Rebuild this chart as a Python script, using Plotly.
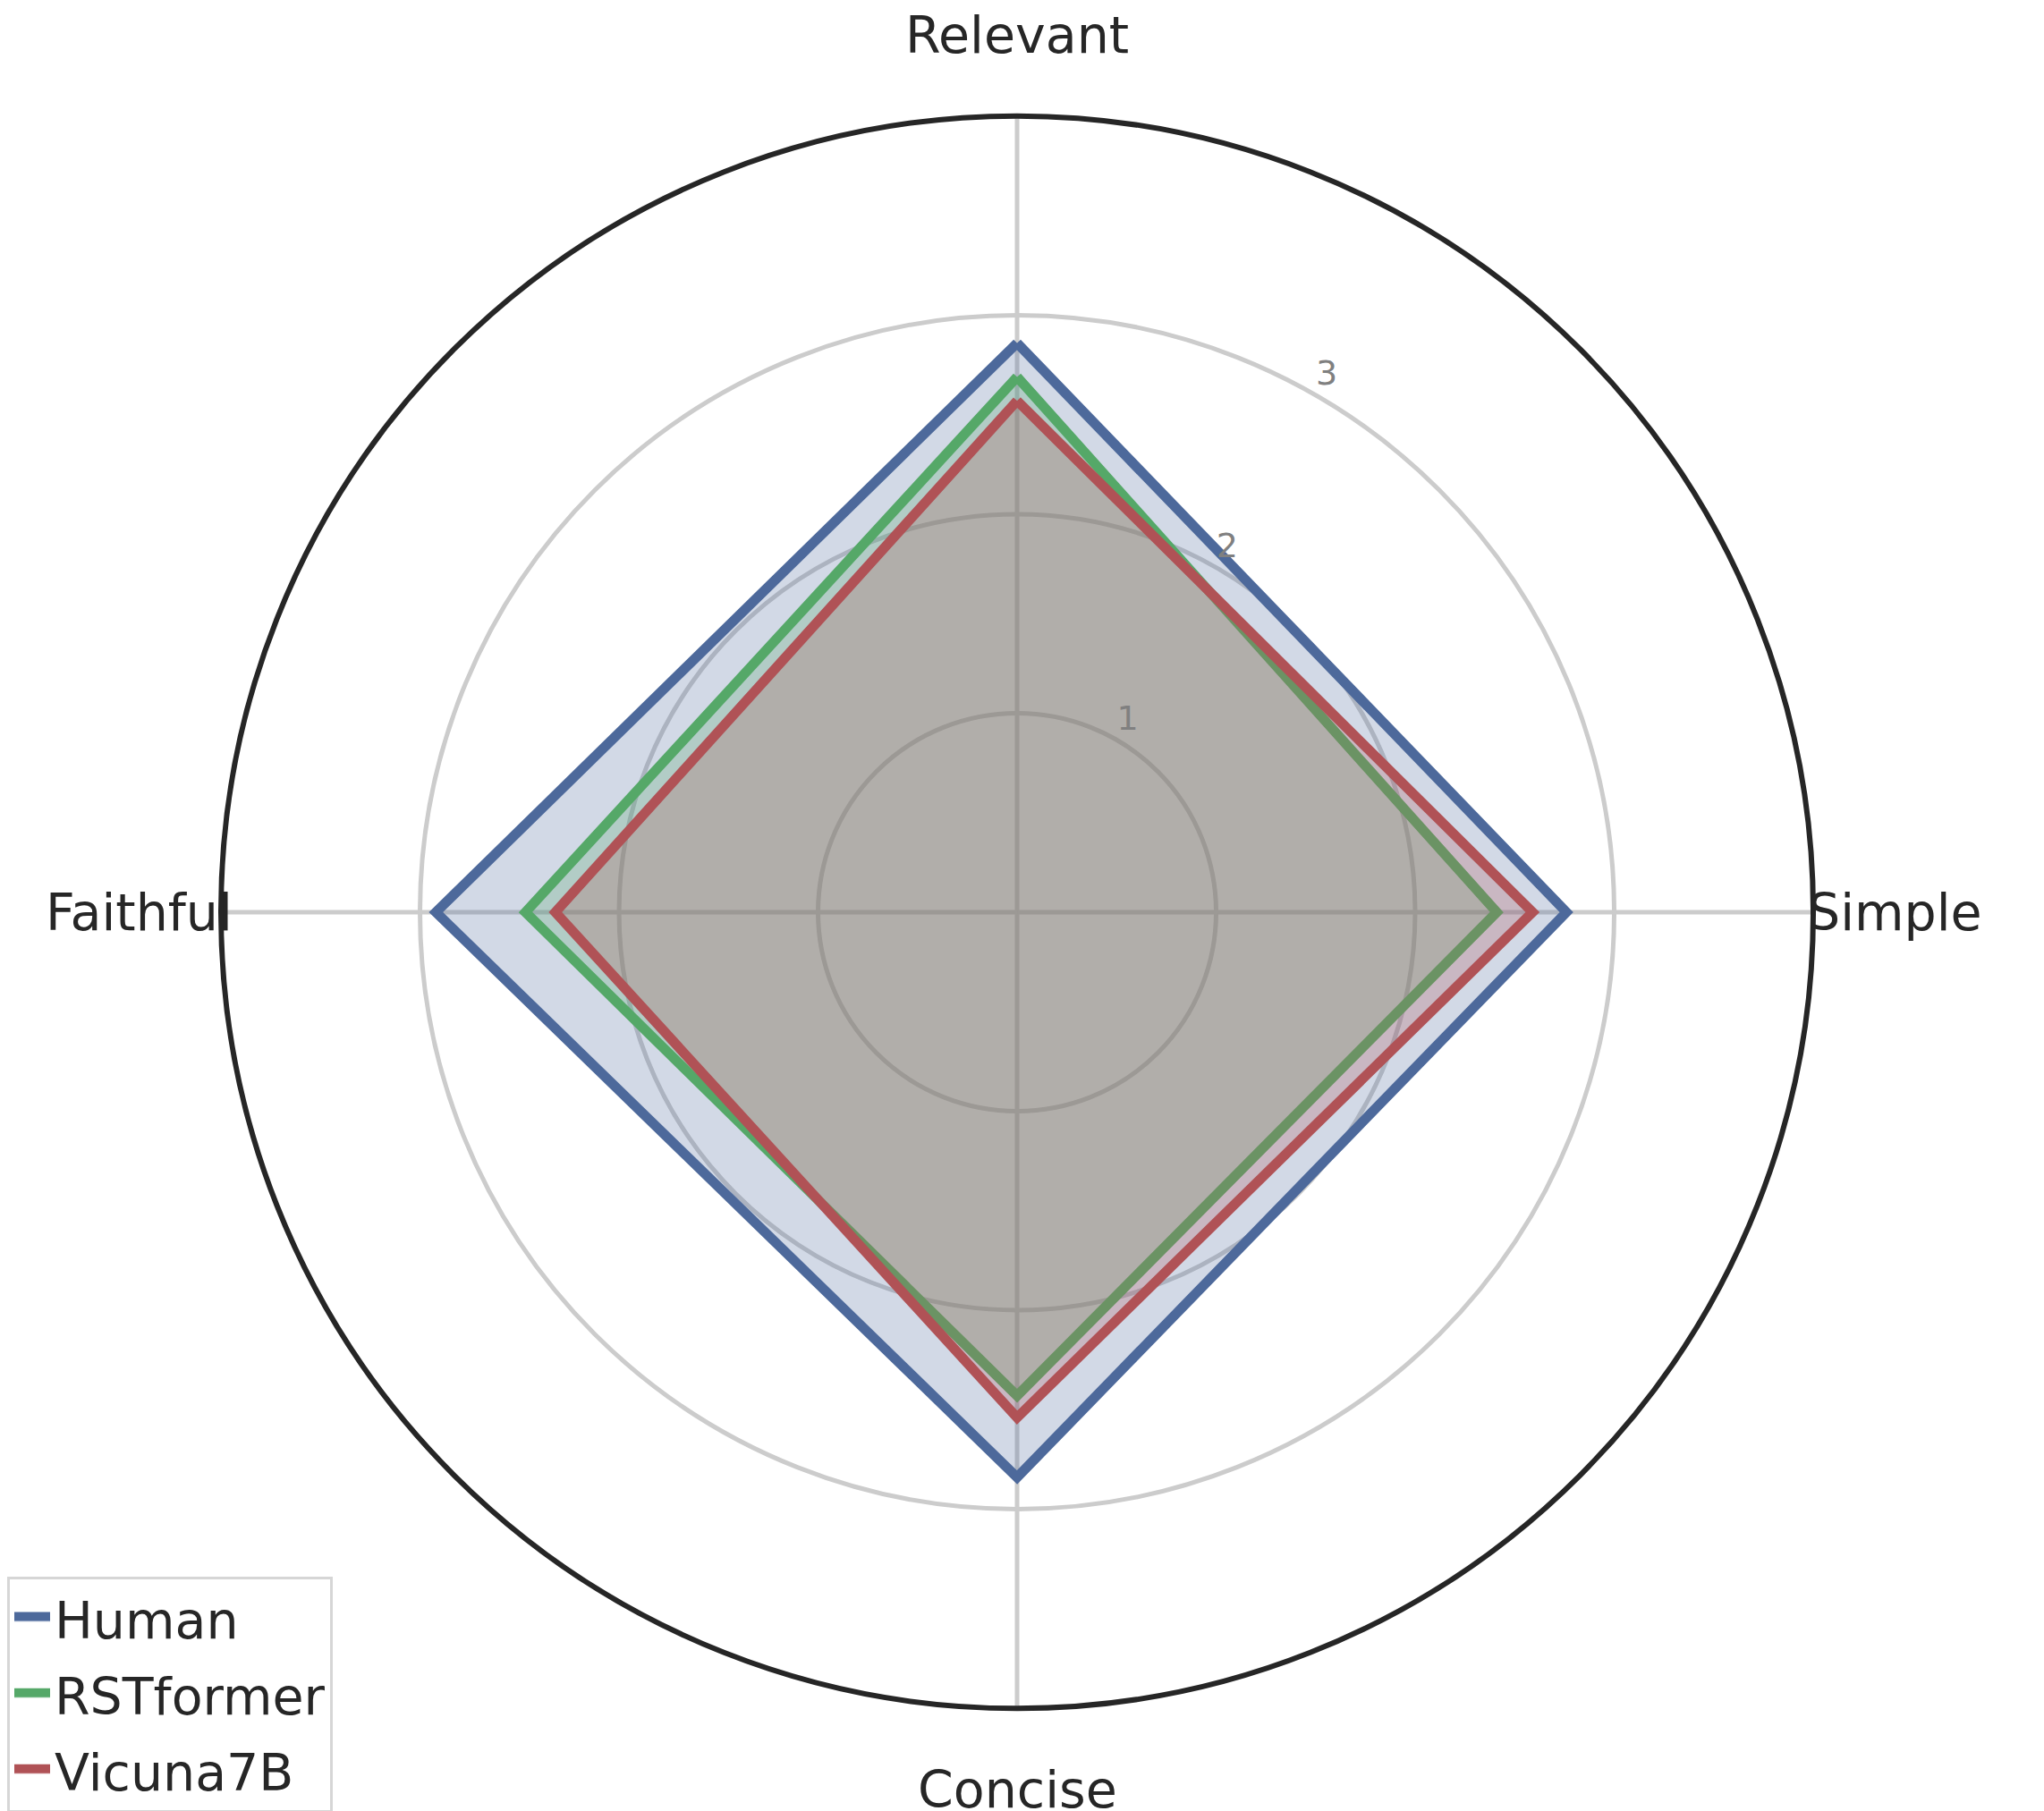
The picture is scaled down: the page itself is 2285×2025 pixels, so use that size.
import math
import plotly.graph_objects as go

categories = ['Relevant', 'Simple', 'Concise', 'Faithful']
angles = [0, 90, 180, 270]  # degrees, clockwise from top
models = ['Human', 'RSTformer', 'Vicuna7B']
human = [2.86, 2.76, 2.84, 2.92]
rstformer = [2.69, 2.41, 2.43, 2.47]
vicuna = [2.57, 2.59, 2.54, 2.32]
radial_ticks = [1, 2, 3]
r_max = 4
label_radius = 4.41

line_colors = ['#4D699B', '#55A868', '#B05256']
fill_colors = ['rgba(77,105,155,0.25)', 'rgba(85,168,104,0.25)', 'rgba(176,82,86,0.25)']

W, H = 2285, 2025
# page body has an 8px margin, domains are shifted to make up for it
dom_x = [0.1046, 0.8836]
dom_y = [0.0607, 0.9398]

fig = go.Figure()

# one closed polygon per model
for name, vals, lc, fc in zip(models, [human, rstformer, vicuna], line_colors, fill_colors):
    fig.add_trace(go.Scatterpolar(
        r=vals + vals[:1],
        theta=angles + angles[:1],
        mode='lines',
        name=name,
        legendgroup=name,
        fill='toself',
        fillcolor=fc,
        line=dict(color=lc, width=11),
    ))

# radial tick labels, matplotlib style: slightly outside each ring at 30 deg
fig.add_trace(go.Scatterpolar(
    r=[t + 0.11 for t in radial_ticks],
    theta=[30] * len(radial_ticks),
    mode='text',
    text=[str(t) for t in radial_ticks],
    textfont=dict(family='DejaVu Sans', size=38, color='#808080'),
    showlegend=False,
    hoverinfo='skip',
))

# category labels a bit outside the outer circle
cx = (dom_x[0] + dom_x[1]) / 2
cy = (dom_y[0] + dom_y[1]) / 2
R_px = (dom_x[1] - dom_x[0]) * W / 2
for cat, a in zip(categories, angles):
    ang = math.radians(90 - a)
    rp = R_px * label_radius / r_max
    fig.add_annotation(
        x=cx + rp * math.cos(ang) / W, y=cy + rp * math.sin(ang) / H,
        xref='paper', yref='paper', text=cat, showarrow=False,
        xanchor='center', yanchor='middle',
        font=dict(family='DejaVu Sans', size=57, color='#262626'),
    )

fig.update_layout(
    width=W, height=H,
    margin=dict(l=0, r=0, t=0, b=0),
    paper_bgcolor='white',
    font=dict(family='DejaVu Sans', color='#262626'),
    polar=dict(
        domain=dict(x=dom_x, y=dom_y),
        bgcolor='white',
        angularaxis=dict(
            rotation=90, direction='clockwise',
            tickmode='array', tickvals=angles,
            showline=True, linecolor='#262626', linewidth=6,
            showgrid=True, gridcolor='#CCCCCC', gridwidth=5,
            showticklabels=False, ticks='',
            layer='below traces',
        ),
        radialaxis=dict(
            range=[0, r_max], tickvals=radial_ticks,
            showline=False, ticks='', showticklabels=False,
            showgrid=True, gridcolor='#CCCCCC', gridwidth=5,
            layer='below traces',
        ),
    ),
    legend=dict(
        x=0, xanchor='left', y=0.1333, yanchor='top',
        font=dict(family='DejaVu Sans', size=57, color='#262626'),
        bordercolor='#D6D6D6', borderwidth=3, bgcolor='white',
        itemwidth=40, tracegroupgap=8, entrywidth=330,
    ),
)

fig.write_html("out.html")
